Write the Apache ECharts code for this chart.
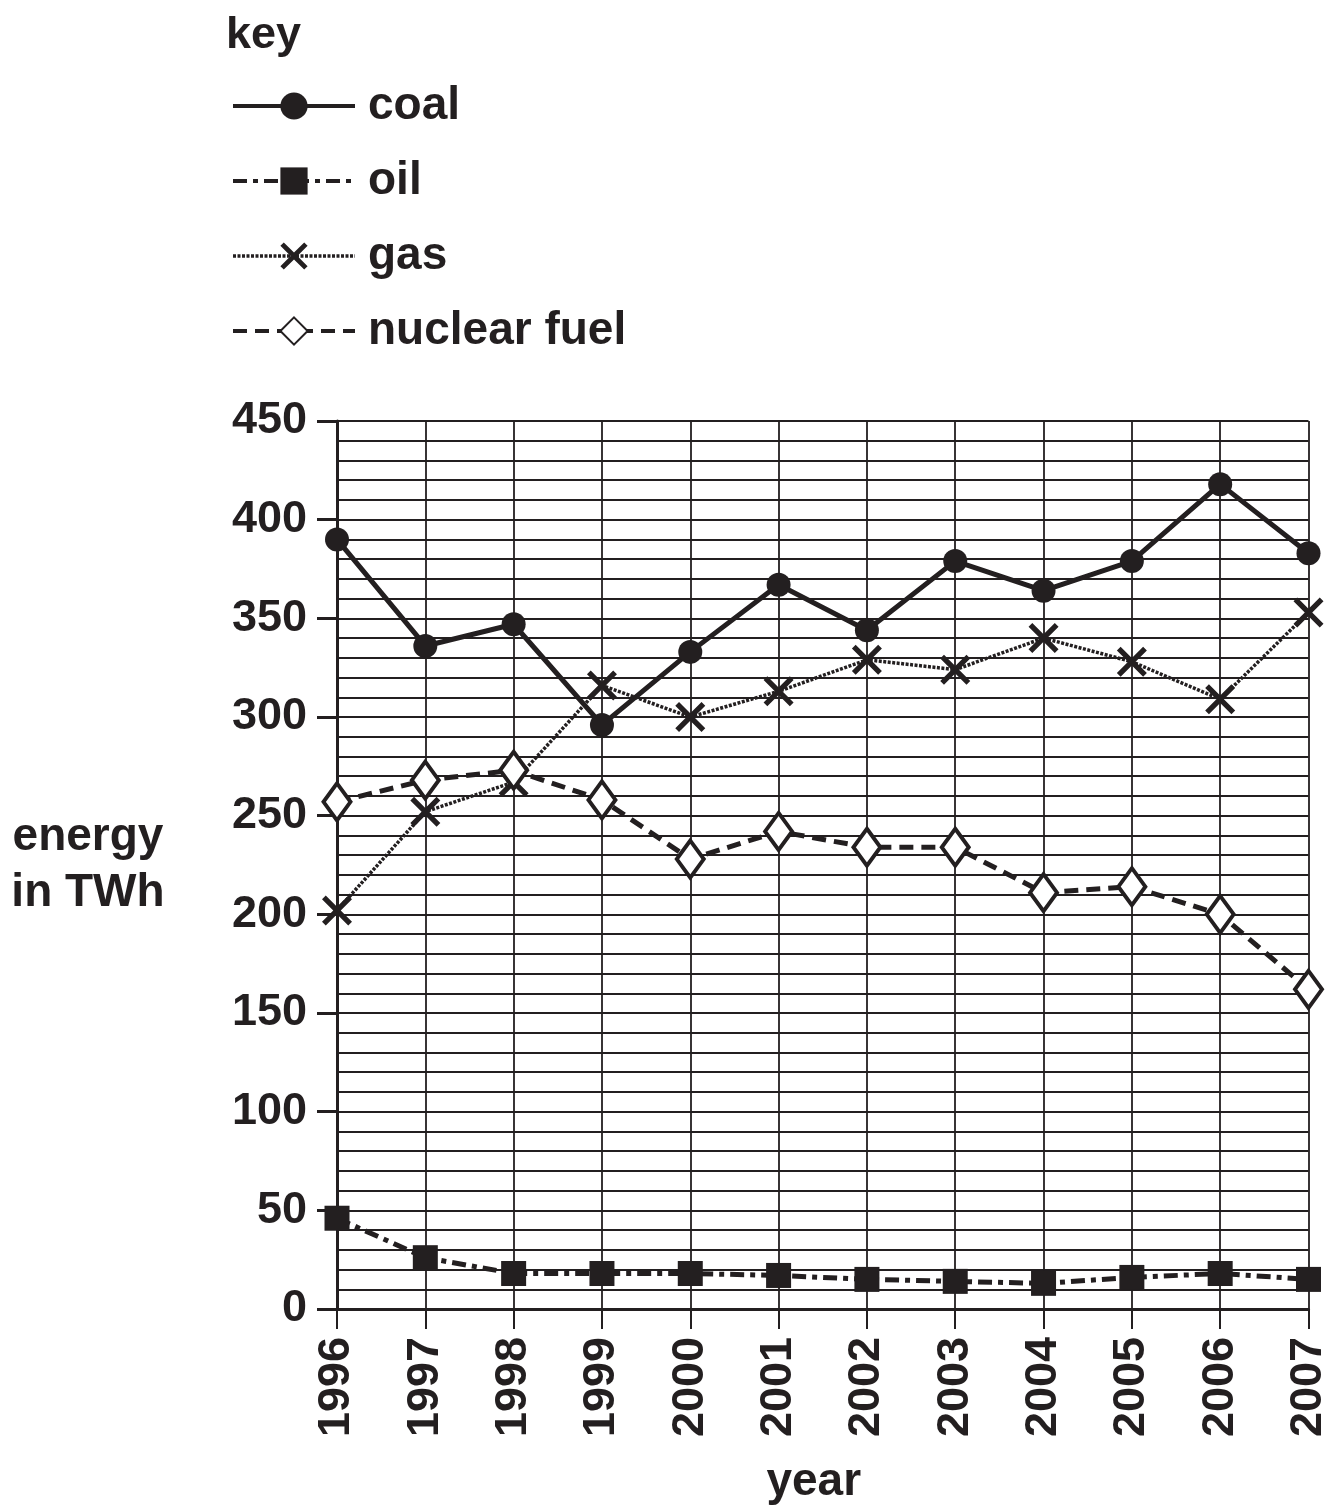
<!DOCTYPE html>
<html>
<head>
<meta charset="utf-8">
<script src="https://cdn.jsdelivr.net/npm/echarts@6/dist/echarts.min.js"></script>
<style>html,body{margin:0;padding:0;background:#fff}#c{width:1331px;height:1510px}</style>
</head>
<body>
<div id="c"></div>
<script>
const years = ['1996','1997','1998','1999','2000','2001','2002','2003','2004','2005','2006','2007'];
const coal = [390, 336, 347, 296, 333, 367, 344, 379, 364, 379, 418, 383];
const oil = [46, 26, 18, 18, 18, 17, 15, 14, 13, 16, 18, 15];
const gas = [202, 252, 267, 316, 300, 313, 329, 324, 340, 328, 309, 353];
const nuclear = [257, 268, 273, 258, 228, 242, 234, 234, 211, 214, 200, 162];

const INK = '#231f20';
const FONT = '"Liberation Sans", Arial, Helvetica, sans-serif';
const crossPath = 'path://M0,3 L3,0 L12,9 L21,0 L24,3 L15,12 L24,21 L21,24 L12,15 L3,24 L0,21 L9,12 Z';

const chart = echarts.init(document.getElementById('c'), null, {renderer: 'canvas'});
chart.setOption({
  animation: false,
  backgroundColor: '#fff',
  title: {
    text: 'key', left: 221, top: 8,
    textStyle: {fontFamily: FONT, fontWeight: 'bold', fontSize: 45, color: INK}
  },
  legend: {
    orient: 'vertical', left: 226, top: 78,
    itemWidth: 122, itemHeight: 34, itemGap: 29,
    textStyle: {fontFamily: FONT, fontWeight: 'bold', fontSize: 46, color: INK, padding: [0,0,0,8]},
    data: [
      {name: 'coal', lineStyle: {width: 4}},
      {name: 'oil', lineStyle: {width: 4}},
      {name: 'gas', lineStyle: {width: 3.5}},
      {name: 'nuclear fuel', lineStyle: {width: 4}}
    ]
  },
  grid: {left: 337, right: 20, top: 421, bottom: 197, containLabel: false},
  xAxis: {
    type: 'category', data: years, boundaryGap: false,
    name: 'year', nameLocation: 'middle', nameGap: 150,
    nameTextStyle: {fontFamily: FONT, fontWeight: 'bold', fontSize: 46, color: INK, padding: [0,18,0,0]},
    axisLine: {lineStyle: {color: INK, width: 3}},
    axisTick: {show: true, length: 20, lineStyle: {color: INK, width: 2}},
    axisLabel: {rotate: 90, margin: 28, fontFamily: FONT, fontWeight: 'bold', fontSize: 45, color: INK},
    splitLine: {show: true, lineStyle: {color: INK, width: 1.8}}
  },
  yAxis: {
    type: 'value', min: 0, max: 450, interval: 50,
    name: 'energy\nin TWh', nameLocation: 'middle', nameRotate: 0, nameGap: 249,
    nameTextStyle: {fontFamily: FONT, fontWeight: 'bold', fontSize: 46, color: INK, align: 'center', lineHeight: 56, padding: [4,0,0,0]},
    axisLine: {show: true, lineStyle: {color: INK, width: 3}},
    axisTick: {show: true, length: 20, lineStyle: {color: INK, width: 3}},
    axisLabel: {margin: 30, fontFamily: FONT, fontWeight: 'bold', fontSize: 45, color: INK},
    splitLine: {show: true, lineStyle: {color: INK, width: 1.8}},
    minorTick: {show: false, splitNumber: 5},
    minorSplitLine: {show: true, lineStyle: {color: INK, width: 1.8}}
  },
  series: [
    {
      name: 'coal', type: 'line', data: coal, z: 5,
      symbol: 'circle', symbolSize: 24,
      lineStyle: {color: INK, width: 5, type: 'solid'},
      itemStyle: {color: INK, borderWidth: 0}
    },
    {
      name: 'oil', type: 'line', data: oil, z: 5,
      symbol: 'rect', symbolSize: 25,
      lineStyle: {color: INK, width: 5, type: [14, 6, 5, 6]},
      itemStyle: {color: INK, borderWidth: 0}
    },
    {
      name: 'gas', type: 'line', data: gas, z: 4,
      symbol: crossPath, symbolSize: 30,
      lineStyle: {color: INK, width: 3.5, type: [3, 1.5]},
      itemStyle: {color: INK, borderWidth: 0}
    },
    {
      name: 'nuclear fuel', type: 'line', data: nuclear, z: 5,
      symbol: 'diamond', symbolSize: [27, 37],
      lineStyle: {color: INK, width: 5, type: [14, 8]},
      itemStyle: {color: '#fff', borderColor: INK, borderWidth: 4}
    }
  ]
});
</script>
</body>
</html>
